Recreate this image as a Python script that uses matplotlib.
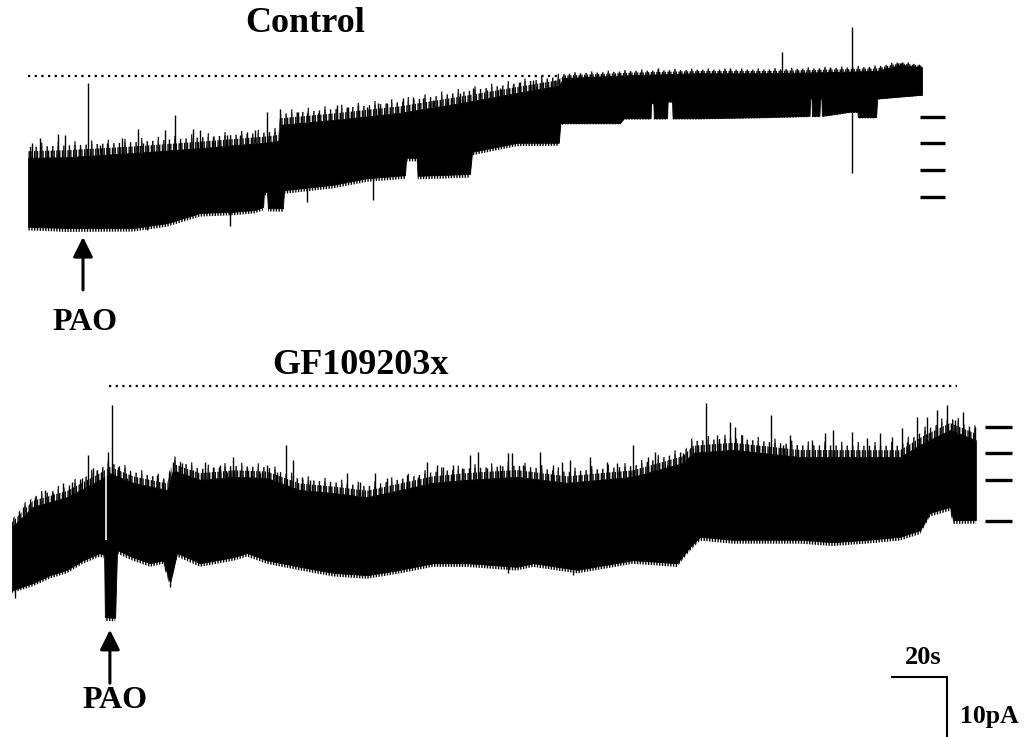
import numpy as np
import matplotlib
matplotlib.use("Agg")
import matplotlib.pyplot as plt

plt.rcParams['font.family'] = ['Liberation Serif', 'DejaVu Serif']
plt.rcParams['hatch.linewidth'] = 1.0

# ---------------- Control trace (time in s, current in pA) ----------------
ctrl_t_up = [0, 14.2, 38.2, 62.5, 85.1, 91.0, 91.6, 110.9, 135.3, 159.6, 177.8,
             192.7, 194.9, 220.0, 244.4, 268.7, 292.7, 308.7, 317.1, 325.1]
ctrl_up = [-13.8, -13.7, -13.0, -12.2, -11.3, -11.0, -8.3, -7.5, -6.3, -4.5, -3.0,
           -1.8, -0.5, 0.0, 0.3, 0.3, 0.5, 0.7, 1.7, 1.3]
# height of the spiky noise fringe above the dense band
ctrl_noise = [2.4, 2.6, 2.4, 2.4, 2.2, 2.2, 2.4, 2.4, 2.4, 2.4, 2.2,
              2.0, 0.9, 0.9, 0.8, 0.8, 0.9, 0.9, 0.6, 0.5]
ctrl_t_lo = [0, 14.2, 38.2, 50.5, 62.5, 74.5, 82.5, 85.5, 85.8, 86.9, 87.3, 92.7, 93.1,
             110.9, 123.3, 137.1, 137.5, 141.3, 141.7, 160.7, 161.5, 177.8, 193.0, 193.6,
             215.3, 216.7, 226.4, 226.6, 227.4, 227.6, 232.4, 232.6, 234.2, 234.4, 244.4,
             268.7, 284.2, 284.4, 284.9, 285.1, 287.8, 288.0, 288.5, 288.7, 298.9, 301.6,
             301.8, 308.4, 308.8, 325.1]
ctrl_lo = [-25.3, -25.5, -25.5, -24.7, -23.0, -22.8, -22.5, -22.0, -19.5, -19.5, -22.2, -22.2, -19.2,
           -18.3, -17.2, -16.7, -13.8, -13.8, -16.8, -16.5, -12.8, -11.3, -11.3, -8.0,
           -8.0, -7.2, -7.2, -4.7, -4.7, -7.2, -7.2, -4.4, -4.4, -7.2, -7.2,
           -7.0, -6.8, -3.9, -3.9, -6.8, -6.8, -3.9, -3.9, -6.8, -6.1, -6.1,
           -7.0, -7.0, -3.9, -3.3]
ctrl_spike_t = [1.5, 4.4, 10.9, 13.5, 18.9, 21.8, 26.2, 28.7, 34.2, 40.0, 41.8, 49.8, 53.5,
                60.0, 62.5, 67.3, 72.4, 77.1, 79.6, 82.5, 86.9, 91.6, 94.2, 98.2, 101.5,
                105.5, 112.4, 116.4, 120.0, 123.3, 127.3, 130.5, 136.4, 140.0, 143.6, 147.3,
                152.4, 157.1, 161.8, 166.9, 171.6, 176.4, 178.9, 183.6, 187.3, 191.6, 229.1,
                255.3, 274.2, 291.6, 299.6, 317.1]
ctrl_spike_peak = [-11.3, -10.5, -9.8, -10.0, -12.2, -1.3, -11.7, -11.3, -10.5, -9.0, -11.3, -9.2, -6.7,
                   -9.0, -9.2, -10.3, -10.0, -10.0, -9.5, -9.2, -6.2, -5.7, -7.2, -6.2, -6.3,
                   -6.3, -5.0, -5.3, -5.0, -5.3, -4.7, -4.7, -3.8, -3.7, -3.8, -4.2,
                   -4.5, -3.0, -2.2, -2.5, -2.2, -1.7, -1.2, -0.8, -1.2, -0.8, 1.2,
                   1.2, 3.8, 1.3, 8.0, 2.0]
ctrl_dip_t = [43.3, 73.5, 101.5, 125.5, 186.2, 299.6]
ctrl_dip_min = [-25.8, -25.2, -21.2, -20.8, -11.7, -16.3]
ctrl_levels = [-6.95, -11.4, -15.8, -20.3]

# ---------------- GF109203x trace ----------------
gf_t_up = [0, 7.6, 20.0, 32.0, 35.6, 44.0, 56.4, 58.5, 68.4, 80.4, 92.7, 104.7, 116.7,
           129.1, 141.1, 153.1, 165.5, 183.6, 201.8, 225.8, 244.0, 247.6, 262.2, 286.5,
           310.9, 322.9, 331.3, 341.1, 350.5]
gf_up = [-23.7, -20.3, -18.7, -15.8, -14.7, -16.3, -17.5, -14.2, -15.8, -15.3, -15.5, -17.5, -18.0,
         -18.7, -17.5, -16.3, -15.8, -15.3, -16.3, -15.3, -13.0, -11.3, -10.8, -12.0,
         -12.0, -12.0, -9.7, -7.5, -9.2]
gf_noise = [1.8, 2.2, 2.3, 2.4, 2.4, 2.4, 2.4, 2.4, 2.4, 2.4, 2.4, 2.4, 2.4,
            2.4, 2.4, 2.4, 2.5, 2.5, 2.4, 2.4, 2.5, 2.6, 2.6, 2.6,
            2.5, 2.5, 2.6, 2.6, 2.4]
gf_t_lo = [0, 7.6, 13.8, 20.0, 25.8, 32.0, 33.5, 33.8, 37.5, 38.2, 44.0, 50.2, 54.9, 57.5,
           60.0, 68.4, 80.4, 85.5, 92.7, 104.7, 116.7, 129.1, 141.1, 153.1, 165.5, 183.6,
           189.5, 205.5, 225.8, 241.8, 246.5, 250.2, 262.2, 286.5, 298.5, 310.9, 322.9,
           330.2, 333.8, 341.1, 342.2, 350.5]
gf_lo = [-34.2, -33.0, -31.7, -30.8, -29.2, -28.0, -28.3, -38.7, -38.8, -27.5, -28.7, -29.7, -29.2, -33.0,
         -28.0, -29.7, -28.7, -28.0, -29.2, -30.3, -31.3, -31.7, -30.8, -29.7, -29.7, -30.3,
         -29.7, -30.8, -29.2, -29.7, -27.0, -25.3, -25.8, -25.8, -26.2, -25.8, -25.3,
         -24.2, -21.3, -20.3, -22.5, -22.5]
gf_spike_t = [4.0, 8.4, 12.0, 14.9, 18.5, 21.8, 25.5, 27.6, 29.5, 30.9, 34.9, 36.4, 38.5,
              41.8, 46.5, 52.7, 54.9, 58.5, 61.8, 65.8, 70.2, 73.1, 75.6, 78.2, 80.4,
              85.5, 90.2, 92.7, 96.4, 99.6, 102.2, 105.5, 108.4, 112.0, 118.2, 121.8,
              126.5, 132.0, 136.4, 143.6, 147.6, 150.9, 154.5, 156.7, 160.4, 163.6, 166.5,
              169.5, 172.7, 177.5, 180.4, 181.8, 185.8, 192.0, 196.7, 200.0, 202.9, 206.5,
              210.2, 216.4, 220.0, 225.8, 231.3, 233.8, 238.2, 244.0, 247.6, 252.4, 256.4,
              261.1, 262.9, 265.5, 270.9, 276.0, 280.4, 282.9, 290.9, 295.6, 298.5, 305.5,
              310.9, 315.6, 320.0, 323.6, 325.5, 329.1, 332.7, 336.4, 340.0, 342.9, 345.8,
              346.5, 350.2]
gf_spike_peak = [-20.3, -18.7, -17.5, -18.0, -16.3, -16.2, -15.5, -11.7, -13.8, -14.2, -11.2, -3.3, -13.7,
                 -15.5, -15.5, -15.0, -15.8, -12.8, -13.0, -14.2, -12.8, -13.7, -13.3, -14.5, -12.0,
                 -13.8, -14.7, -13.3, -14.5, -10.0, -12.5, -15.3, -15.8, -16.7, -17.5, -14.7,
                 -16.2, -14.7, -15.5, -15.0, -15.3, -12.8, -13.3, -13.7, -13.3, -13.8, -11.7,
                 -11.2, -13.8, -13.3, -11.3, -11.3, -13.3, -11.2, -13.3, -12.8, -12.5, -14.7,
                 -12.0, -12.8, -13.0, -10.0, -12.0, -11.2, -13.3, -11.3, -10.5, -3.0, -8.3,
                 -6.2, -7.0, -8.3, -10.0, -5.0, -10.0, -8.3, -9.2, -8.0, -7.5, -7.8,
                 -8.8, -8.0, -8.7, -7.2, -9.5, -5.3, -5.3, -4.2, -3.3, -5.8, -4.5,
                 -7.5, -7.0]
gf_dip_t = [1.1, 36.7, 57.5, 180.4, 204.0, 241.8]
gf_dip_min = [-35.5, -38.8, -33.7, -31.3, -31.7, -29.7]
gf_gap_t = [34.2]
gf_gap_range = [(-25.8, -13.7)]
gf_levels = [-6.95, -11.4, -15.9, -22.7]

W, H = 1026, 737
fig = plt.figure(figsize=(W / 100, H / 100), dpi=100)
fig.patch.set_facecolor('white')

ax1 = fig.add_axes([0, 1 - 300 / H, 1, 300 / H])
ax1.set_xlim(-28 / 2.75, (W - 28) / 2.75)
ax1.set_ylim((75 - 300) / 6, 75 / 6)
ax2 = fig.add_axes([0, 0, 1, 437 / H])
ax2.set_xlim(-12 / 2.75, (W - 12) / 2.75)
ax2.set_ylim((385 - H) / 6, (385 - 300) / 6)
for ax in (ax1, ax2):
    ax.axis('off')


def draw_trace(ax, t_up, up, noise, t_lo, lo, sp_t, sp_pk, dp_t, dp_min):
    t_up = np.asarray(t_up, float); up = np.asarray(up, float)
    t_lo = np.asarray(t_lo, float); lo = np.asarray(lo, float)
    grid = np.union1d(t_up, t_lo)
    u = np.interp(grid, t_up, up)
    l = np.interp(grid, t_lo, lo)
    nz = np.interp(grid, t_up, noise)
    ax.fill_between(grid, l, u, color='black', linewidth=0.6)
    # spiky noise fringe above the dense band: layered hatches of
    # decreasing density and increasing reach
    for frac, hatch, col in ((0.45, '||||||', 'black'),
                             (0.75, '|||', 'black'),
                             (1.0, '|', '#222222')):
        ax.fill_between(grid, u - 0.2, u + frac * nz, facecolor='none',
                        edgecolor=col, hatch=hatch, linewidth=0)
    ax.fill_between(grid, l + 0.2, l - 0.25 * nz, facecolor='none', edgecolor='black',
                    hatch='||||||', linewidth=0)
    sp_t = np.asarray(sp_t, float)
    base = np.minimum(np.interp(sp_t, t_up, up), np.asarray(sp_pk, float))
    ax.vlines(sp_t, base, sp_pk, color='black', lw=1.0)
    dp_t = np.asarray(dp_t, float)
    ax.vlines(dp_t, dp_min, np.interp(dp_t, t_lo, lo), color='black', lw=1.0)


draw_trace(ax1, ctrl_t_up, ctrl_up, ctrl_noise, ctrl_t_lo, ctrl_lo, ctrl_spike_t,
           ctrl_spike_peak, ctrl_dip_t, ctrl_dip_min)
draw_trace(ax2, gf_t_up, gf_up, gf_noise, gf_t_lo, gf_lo, gf_spike_t, gf_spike_peak,
           gf_dip_t, gf_dip_min)
for gt, (g0, g1) in zip(gf_gap_t, gf_gap_range):
    ax2.vlines(gt, g0, g1, color='white', lw=1.2)

# dotted application bars
ax1.hlines(-0.17, 0, 193.5, colors='black', linestyles=(0, (1, 2)), lw=1.6)
ax2.hlines(-0.17, 35.3, 343.6, colors='black', linestyles=(0, (1, 2)), lw=1.6)

# level markers
ax1.hlines(ctrl_levels, 324.4, 333.5, colors='black', lw=2.4)
ax2.hlines(gf_levels, 353.8, 363.6, colors='black', lw=2.4)

# PAO arrows
arrow = dict(arrowstyle='-|>,head_length=0.6,head_width=0.3', lw=2.2, color='black',
             mutation_scale=20, shrinkA=0, shrinkB=0)
ax1.annotate('', xy=(20.0, -27.0), xytext=(20.0, -35.8), arrowprops=arrow,
             annotation_clip=False)
ax2.annotate('', xy=(35.6, -40.8), xytext=(35.6, -49.7), arrowprops=arrow,
             annotation_clip=False)

# scale bars: 20 s and 10 pA
ax2.plot([320, 340, 340], [-48.7, -48.7, -58.7], color='black', lw=1.5,
         solid_joinstyle='miter', clip_on=False)

tk = dict(fontweight='bold', color='black', ha='center', va='center')
fig.text(305 / W, 1 - 24 / H, 'Control', fontsize=26, **tk)
fig.text(360 / W, 1 - 366 / H, 'GF109203x', fontsize=26, **tk)
fig.text(85 / W, 1 - 322 / H, 'PAO', fontsize=23, **tk)
fig.text(115 / W, 1 - 700 / H, 'PAO', fontsize=23, **tk)
fig.text(923 / W, 1 - 657 / H, '20s', fontsize=19, **tk)
fig.text(960 / W, 1 - 717 / H, '10pA', fontsize=18.5, fontweight='bold',
         ha='left', va='center')

fig.savefig('out.png', dpi=100, facecolor='white')
